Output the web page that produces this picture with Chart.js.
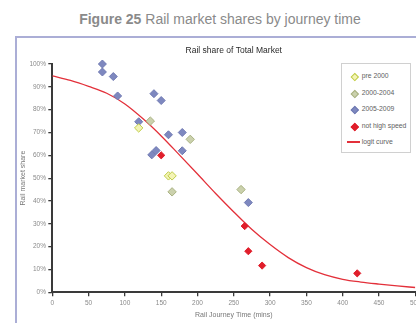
<!DOCTYPE html>
<html>
<head>
<meta charset="utf-8">
<script src="https://cdn.jsdelivr.net/npm/chart.js@4/dist/chart.umd.min.js"></script>
<style>
  html, body { margin: 0; padding: 0; background: #fff; }
  body { width: 416px; height: 323px; overflow: hidden; position: relative;
         font-family: 'Liberation Sans', Arial, sans-serif; }
  #heading { position: absolute; left: 0; top: 11px; width: 440px; text-align: center;
             font-size: 14px; line-height: 16px; color: #8a8a8a; white-space: nowrap; }
  #frame { position: absolute; left: 15px; top: 36px; width: 700px; height: 400px;
           border-left: 2px solid #abaed6; border-top: 2px solid #abaed6; }
  #chart { position: absolute; left: 0; top: 0; }
  #legend { position: absolute; left: 341px; top: 63px; width: 68px; height: 88px;
            border: 1px solid #d0d0d0; background: #fff; }
  .item { position: absolute; left: 0; width: 68px; height: 10px; }
  .mark { position: absolute; left: 9.5px; top: 3px; width: 3.6px; height: 3.6px;
          transform: rotate(45deg); border: 0.8px solid; }
  .line { position: absolute; left: 5px; top: 4.4px; width: 13px; height: 1.3px; }
  .txt { position: absolute; left: 19.7px; top: 0; font-size: 6.8px; line-height: 10px;
         color: #5e5e5e; white-space: nowrap; }
</style>
</head>
<body>
<div id="heading"><b>Figure 25</b> Rail market shares by journey time</div>
<div id="frame"></div>
<canvas id="chart" width="440" height="323"></canvas>
<div id="legend"></div>
<script>
// Journey time (minutes) and rail share (%) per flow, grouped by period
const pre2000Time  = [119, 160, 165];
const pre2000Share = [72, 51, 51];

const early2000sTime  = [135, 190, 165, 260];
const early2000sShare = [75, 67, 44, 45];

const late2000sTime  = [69, 69, 84, 90, 119, 140, 150, 160, 179, 179, 137, 143, 270];
const late2000sShare = [100, 96.5, 94.5, 86, 74.7, 87, 84, 69, 70, 62, 60.2, 62.1, 39.3];

const slowTime  = [150, 265, 270, 289, 420];
const slowShare = [60, 29, 18, 11.7, 8.3];

// Fitted logit curve
const logitTime  = [0, 25, 50, 75, 100, 125, 150, 175, 200, 225, 250,
                    275, 300, 325, 350, 375, 400, 425, 450, 475, 500];
const logitShare = [94.8, 92.8, 90.2, 87.2, 82.5, 76, 68.5, 60.2, 51.8, 43.3, 35.2,
                    27.5, 20.9, 15.2, 10.8, 7.7, 5.7, 4.5, 3.6, 2.8, 2.1];

// Axis ticks
const xTicks = [0, 50, 100, 150, 200, 250, 300, 350, 400, 450, 500];
const yTicks = [0, 10, 20, 30, 40, 50, 60, 70, 80, 90, 100];
const yTickLabels = ['0%', '10%', '20%', '30%', '40%', '50%', '60%', '70%', '80%', '90%', '100%'];

const FONT = "'Liberation Sans', Arial, sans-serif";
const pts = (xs, ys) => xs.map((x, i) => ({ x: x, y: ys[i] }));

const diamond = (label, xs, ys, fill, edge, r) => ({
  label: label, type: 'scatter', data: pts(xs, ys),
  pointStyle: 'rectRot', pointRadius: r, pointHoverRadius: r,
  backgroundColor: fill, borderColor: edge, borderWidth: 1,
  clip: false, order: 1
});

const chart = new Chart(document.getElementById('chart'), {
  type: 'scatter',
  data: {
    datasets: [
      diamond('pre 2000', pre2000Time, pre2000Share, '#f4f4b6', '#bfcc48', 4.2),
      diamond('2000-2004', early2000sTime, early2000sShare, '#cbd1ad', '#a9b282', 4.2),
      diamond('2005-2009', late2000sTime, late2000sShare, '#7e88bf', '#6f79b2', 4),
      diamond('not high speed', slowTime, slowShare, '#e01e2b', '#e01e2b', 3.6),
      {
        label: 'logit curve', type: 'line', data: pts(logitTime, logitShare),
        borderColor: '#e3303a', backgroundColor: '#e3303a', borderWidth: 1.3,
        pointRadius: 0, cubicInterpolationMode: 'monotone', fill: false, order: 5
      }
    ]
  },
  options: {
    responsive: false,
    animation: false,
    layout: { padding: { left: 18.8, right: 24.7, top: 40, bottom: 3.8 } },
    plugins: {
      legend: { display: false },
      tooltip: { enabled: false },
      title: {
        display: true, text: 'Rail share of Total Market', fullSize: false,
        color: '#2a2a2a', font: { family: FONT, size: 8.5, weight: 'normal' },
        padding: { top: 5.9, bottom: 7.9 }
      }
    },
    scales: {
      x: {
        type: 'linear', min: 0, max: 500,
        afterBuildTicks: s => { s.ticks = xTicks.map(v => ({ value: v })); },
        afterFit: s => { s.height = 26.9; },
        ticks: { color: '#8a8a8a', font: { family: FONT, size: 6.5 }, padding: 3.1,
                 maxRotation: 0, autoSkip: false },
        grid: { display: true, drawOnChartArea: false, drawTicks: true, tickLength: 4,
                color: '#3a3a3a', lineWidth: 1.3 },
        border: { display: true, color: '#3a3a3a', width: 2 },
        title: { display: true, text: 'Rail Journey Time (mins)', color: '#777',
                 font: { family: FONT, size: 7 }, padding: 0 }
      },
      y: {
        type: 'linear', min: 0, max: 100,
        afterBuildTicks: s => { s.ticks = yTicks.map(v => ({ value: v })); },
        afterFit: s => { s.width = 33.5; },
        ticks: { color: '#8a8a8a', font: { family: FONT, size: 6.5 }, padding: 2.3,
                 autoSkip: false,
                 callback: (v) => yTickLabels[yTicks.indexOf(v)] },
        grid: { display: true, drawOnChartArea: false, drawTicks: true, tickLength: 4,
                color: '#3a3a3a', lineWidth: 1.3 },
        border: { display: true, color: '#3a3a3a', width: 2 },
        title: { display: true, text: 'Rail market share', color: '#777',
                 font: { family: FONT, size: 7 }, padding: 0 }
      }
    }
  }
});

// Boxed legend in the upper right corner of the plot
const legend = document.getElementById('legend');
const rowTops = [7, 23.5, 40, 56.5, 73];
chart.data.datasets.forEach((ds, i) => {
  const row = document.createElement('div');
  row.className = 'item';
  row.style.top = rowTops[i] + 'px';
  const key = document.createElement('div');
  if (ds.type === 'line') {
    key.className = 'line';
    key.style.background = ds.borderColor;
  } else {
    key.className = 'mark';
    key.style.background = ds.backgroundColor;
    key.style.borderColor = ds.borderColor;
  }
  const txt = document.createElement('div');
  txt.className = 'txt';
  txt.textContent = ds.label;
  row.appendChild(key);
  row.appendChild(txt);
  legend.appendChild(row);
});
</script>
</body>
</html>
